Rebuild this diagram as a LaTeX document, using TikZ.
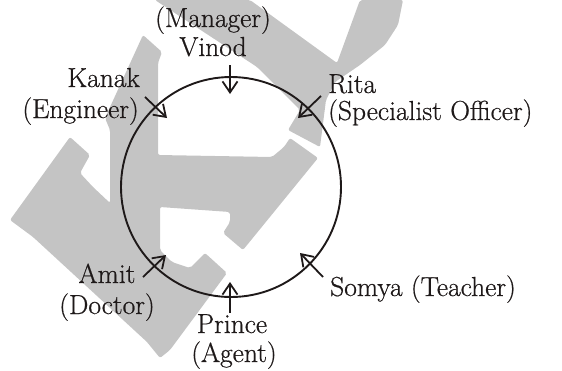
\documentclass[tikz,border=0pt]{standalone}
\usepackage{fontspec}
\setmainfont{Latin Modern Roman}[FakeBold=0.6]
\usetikzlibrary{arrows.meta}
\definecolor{wm}{RGB}{196,196,196}
\definecolor{ink}{RGB}{30,25,25}
\begin{document}
\begin{tikzpicture}[x=1pt,y=-1pt,
  lbl/.style={inner sep=0pt, text=ink, font=\fontsize{27.5}{30}\selectfont},
  arr/.style={-{Straight Barb[length=11pt,width=15pt]}, line width=1.8pt, draw=ink},
  ring/.style={circle, draw=ink, line width=1.9pt, minimum size=220pt, inner sep=0pt},
  wmshape/.style={fill=wm, rounded corners=2pt}]
\useasboundingbox (0,0) rectangle (562,370);
% watermark
\fill[wmshape] (155,0) -- (250,0) -- (337,63) -- (360,0) -- (403,0) -- (398,25)
  -- (385,45) -- (360,65) -- (335,82) -- (326,100) -- (320,147) -- (288,130)
  -- (300,110) -- (257,67) -- cycle;
\fill[wmshape] (143,35) -- (162,52) -- (158,63) -- (158,155) -- (272,157) -- (284,147)
  -- (290,138) -- (318,158) -- (243,250) -- (223,233) -- (230,222) -- (230,212)
  -- (160,207) -- (160,250) -- (172,262) -- (190,268) -- (205,253) -- (227,273)
  -- (170,350) -- (160,358) -- (147,342) -- (33,237) -- (10,220) -- (70,137)
  -- (90,155) -- (80,173) -- (93,187) -- (110,203) -- (110,130) -- (105,118) -- cycle;
% circle
\node[ring] (c) at (231,187) {};
% labels
\node[lbl, anchor=base] (mgr) at (213,27) {(Manager)};
\node[lbl, anchor=base] (vinod) at (213,56) {Vinod};
\node[lbl, anchor=base east] (kanak) at (140,87) {Kanak};
\node[lbl, anchor=base east] (eng) at (139,118) {(Engineer)};
\node[lbl, anchor=base west] (rita) at (328,93) {Rita};
\node[lbl, anchor=base west] (spec) at (328,120) {(Specialist Officer)};
\node[lbl, anchor=base west] (somya) at (330,296) {Somya (Teacher)};
\node[lbl, anchor=base] (amit) at (107,283) {Amit};
\node[lbl, anchor=base] (doc) at (107,314) {(Doctor)};
\node[lbl, anchor=base] (prince) at (232,333) {Prince};
\node[lbl, anchor=base] (agent) at (234,362) {(Agent)};
% arrow endpoints
\coordinate (v1) at (230,65);  \coordinate (v2) at (230,94);
\coordinate (k1) at (145,97);  \coordinate (k2) at (167,118);
\coordinate (r1) at (321,96);  \coordinate (r2) at (298,118);
\coordinate (s1) at (323,277); \coordinate (s2) at (300,253);
\coordinate (p1) at (230,313); \coordinate (p2) at (230,282);
\coordinate (a1) at (143,277); \coordinate (a2) at (166,255);
\draw[arr] (v1) -- (v2);
\draw[arr] (k1) -- (k2);
\draw[arr] (r1) -- (r2);
\draw[arr] (s1) -- (s2);
\draw[arr] (p1) -- (p2);
\draw[arr] (a1) -- (a2);
\end{tikzpicture}
\end{document}
